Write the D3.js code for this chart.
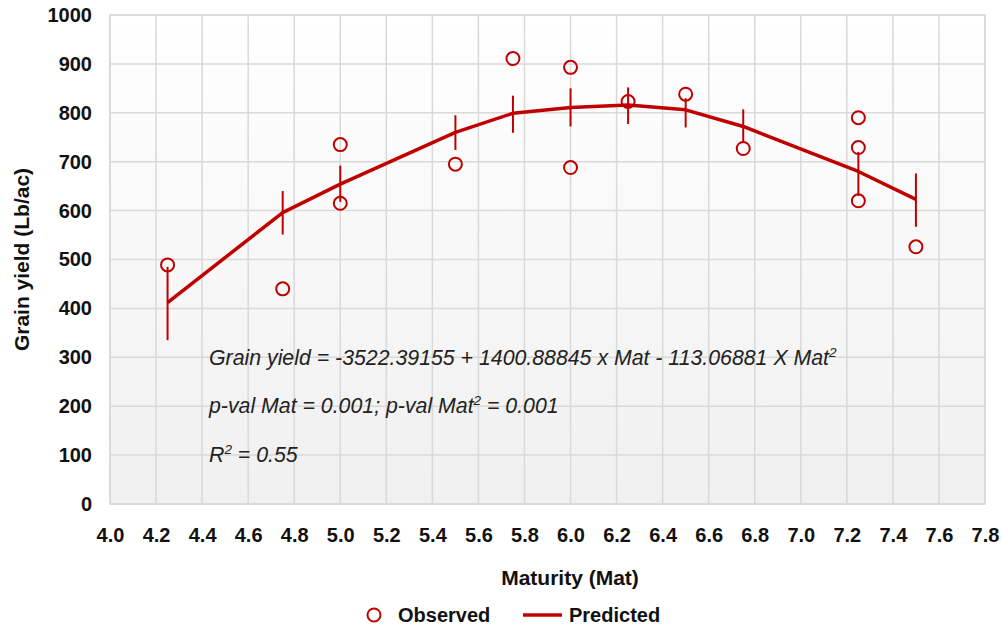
<!DOCTYPE html>
<html>
<head>
<meta charset="utf-8">
<script src="https://cdn.jsdelivr.net/npm/d3@7"></script>
<style>
  body { margin: 0; background: #fff; }
  svg text { font-family: "Liberation Sans", Arial, sans-serif; }
</style>
</head>
<body>
<svg id="chart" width="1002" height="628"></svg>
<script>
// --- Data ---
const obsX = [4.25, 4.75, 5.0, 5.0, 5.5, 5.75, 6.0, 6.0, 6.25, 6.5, 6.75, 7.25, 7.25, 7.25, 7.5];
const obsY = [489, 440, 735, 615, 695, 911, 893, 688, 823, 838, 727, 790, 729, 620, 526];

const matX = [4.25, 4.75, 5.0, 5.5, 5.75, 6.0, 6.25, 6.5, 6.75, 7.25, 7.5];
const predY = [412, 596, 654, 760, 799, 811, 816, 806, 772, 680, 623];
const errLow = [335, 551, 618, 724, 759, 772, 777, 770, 738, 630, 567];
const errHigh = [485, 640, 692, 795, 835, 850, 852, 830, 807, 720, 676];

const xTicks = d3.range(0, 20).map(i => 4 + i * 0.2);
const yTicks = d3.range(0, 11).map(i => i * 100);

const red = "#c00000";

// --- Setup ---
const svg = d3.select("#chart");
const margin = { top: 15, right: 17, bottom: 124, left: 110 };
const width = 1002 - margin.left - margin.right;
const height = 628 - margin.top - margin.bottom;

const x = d3.scaleLinear().domain([4.0, 7.8]).range([0, width]);
const y = d3.scaleLinear().domain([0, 1000]).range([height, 0]);

const defs = svg.append("defs");
const grad = defs.append("linearGradient").attr("id", "bg").attr("x1", 0).attr("y1", 0).attr("x2", 0).attr("y2", 1);
grad.append("stop").attr("offset", "0%").attr("stop-color", "#ffffff");
grad.append("stop").attr("offset", "100%").attr("stop-color", "#f0f0f0");

const g = svg.append("g").attr("transform", `translate(${margin.left},${margin.top})`);

g.append("rect").attr("width", width).attr("height", height).attr("fill", "url(#bg)");

// grid
g.append("g").selectAll("line").data(xTicks).join("line")
    .attr("x1", d => x(d)).attr("x2", d => x(d))
    .attr("y1", 0).attr("y2", height)
    .attr("stroke", "#d9d9d9").attr("stroke-width", 1.5);
g.append("g").selectAll("line").data(yTicks).join("line")
    .attr("x1", 0).attr("x2", width)
    .attr("y1", d => y(d)).attr("y2", d => y(d))
    .attr("stroke", "#d9d9d9").attr("stroke-width", 1.5);
g.append("rect").attr("width", width).attr("height", height)
    .attr("fill", "none").attr("stroke", "#d9d9d9").attr("stroke-width", 1.5);

// axes (labels only)
const xAxis = g.append("g").attr("transform", `translate(0,${height})`)
    .call(d3.axisBottom(x).tickValues(xTicks).tickFormat(d3.format(".1f")).tickSize(0).tickPadding(24));
const yAxis = g.append("g")
    .call(d3.axisLeft(y).tickValues(yTicks).tickFormat(d3.format("d")).tickSize(0).tickPadding(18));
[xAxis, yAxis].forEach(a => {
    a.select(".domain").remove();
    a.selectAll("text")
        .attr("font-family", '"Liberation Sans", Arial, sans-serif')
        .attr("font-size", 20).attr("font-weight", "bold").attr("fill", "#111");
});

// axis titles
svg.append("text").attr("x", 570).attr("y", 585).attr("text-anchor", "middle")
    .attr("font-size", 21).attr("font-weight", "bold").attr("fill", "#111")
    .text("Maturity (Mat)");
svg.append("text").attr("transform", `translate(29,${margin.top + height / 2}) rotate(-90)`)
    .attr("text-anchor", "middle")
    .attr("font-size", 21).attr("font-weight", "bold").attr("fill", "#111")
    .text("Grain yield (Lb/ac)");

// error bars
g.append("g").selectAll("line").data(matX).join("line")
    .attr("x1", d => x(d)).attr("x2", d => x(d))
    .attr("y1", (d, i) => y(errLow[i])).attr("y2", (d, i) => y(errHigh[i]))
    .attr("stroke", red).attr("stroke-width", 2);

// predicted line
const line = d3.line().x(d => x(d[0])).y(d => y(d[1]));
g.append("path").datum(matX.map((d, i) => [d, predY[i]]))
    .attr("d", line).attr("fill", "none")
    .attr("stroke", red).attr("stroke-width", 3.5).attr("stroke-linejoin", "round");

// observed points
g.append("g").selectAll("circle").data(obsX).join("circle")
    .attr("cx", d => x(d)).attr("cy", (d, i) => y(obsY[i]))
    .attr("r", 6.5).attr("fill", "none")
    .attr("stroke", red).attr("stroke-width", 2);

// annotations ("^" marks a superscript piece)
const eq = svg.append("g").attr("font-size", 21.3).attr("font-style", "italic").attr("fill", "#222");
function supLine(yPos, parts) {
    const t = eq.append("text").attr("x", 209).attr("y", yPos);
    let shifted = false;
    parts.forEach(p => {
        if (p.startsWith("^")) {
            t.append("tspan").attr("font-size", 13.5).attr("dy", -8).text(p.slice(1));
            shifted = true;
        } else {
            t.append("tspan").attr("dy", shifted ? 8 : 0).text(p);
            shifted = false;
        }
    });
}
supLine(365, ["Grain yield = -3522.39155 + 1400.88845 x Mat - 113.06881 X Mat", "^2"]);
supLine(413, ["p-val Mat = 0.001; p-val Mat", "^2", " = 0.001"]);
supLine(462, ["R", "^2", " = 0.55"]);

// legend
const lg = svg.append("g");
lg.append("circle").attr("cx", 374).attr("cy", 615).attr("r", 6.5)
    .attr("fill", "none").attr("stroke", red).attr("stroke-width", 2);
lg.append("text").attr("x", 398).attr("y", 622).attr("font-size", 20).attr("font-weight", "bold")
    .attr("fill", "#111").text("Observed");
lg.append("line").attr("x1", 523).attr("x2", 562).attr("y1", 615).attr("y2", 615)
    .attr("stroke", red).attr("stroke-width", 3.5);
lg.append("text").attr("x", 569).attr("y", 622).attr("font-size", 20).attr("font-weight", "bold")
    .attr("fill", "#111").text("Predicted");
</script>
</body>
</html>
